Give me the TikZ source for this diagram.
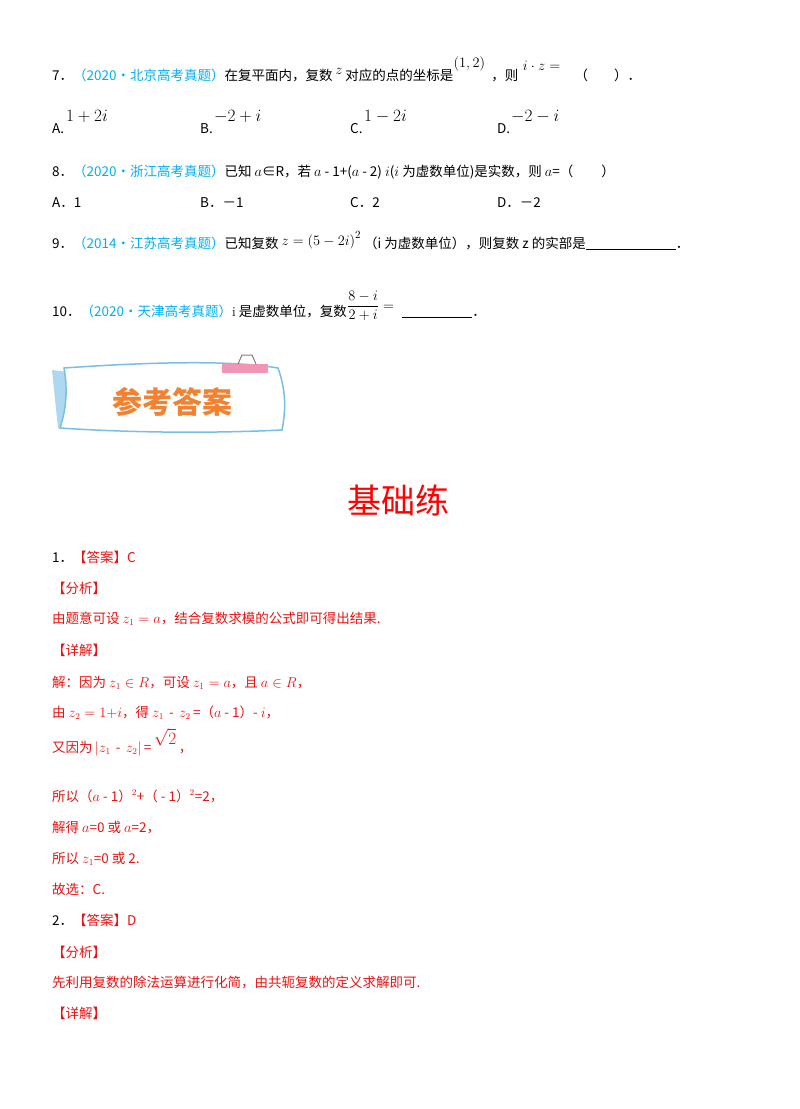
\documentclass[tikz,border=0pt]{standalone}
\usepackage{fontspec}
\newfontfamily\cjk{Noto Sans CJK SC}
\definecolor{qblue}{RGB}{0,176,240}
\definecolor{ans}{RGB}{230,20,20}
\definecolor{bannerorange}{RGB}{240,130,50}
\definecolor{bannerblue}{RGB}{120,190,230}
\definecolor{clippink}{RGB}{240,150,180}
\tikzset{
 t/.style={anchor=base west,inner sep=0pt,font=\cjk\fontsize{13.5}{15}\selectfont},
 r/.style={t,text=ans},
}
\begin{document}
\begin{tikzpicture}[x=1pt,y=-1pt]
\useasboundingbox[fill=white] (0,0) rectangle (800,1109);
% Q7
\node[t] (q7) at (52,80) {7．\textcolor{qblue}{（2020・北京高考真题）}在复平面内，复数};
\node[t] (q7z) at ([yshift=6pt]q7.base east) {\fontsize{15}{16}\selectfont$\,z$};
\node[t] (q7a) at (q7.base east -| q7z.east) {\,对应的点的坐标是};
\node[t] (q7p) at ([yshift=13pt]q7a.base east) {\fontsize{15}{16}\selectfont$(1,2)$};
\node[t] (q7c) at (q7a.base east -| q7p.east) {\hspace{6pt}，则};
\node[t] (q7e) at ([yshift=10pt]q7c.base east) {\fontsize{15}{16}\selectfont$\;i\cdot z=$};
\node[t] (q7b) at (q7a.base east -| q7e.east) {\hspace{14pt}（\hspace{26pt}）．};
% options 7
\foreach \x/\l/\v [count=\k] in {52/A./1+2i,200/B./-2+i,350/C./1-2i,497/D./-2-i}{
 \node[t] (o7\k) at (\x,133) {\l};
 \node[t] (m7\k) at (\x+14,121) {\fontsize{16}{18}\selectfont$\v$};
}
% Q8
\node[t] (q8) at (52,176) {8．\textcolor{qblue}{（2020・浙江高考真题）}已知 $a$∈R，若 $a$ - 1+($a$ - 2) $i$($i$ 为虚数单位)是实数，则 $a$=（\hspace{28pt}）};
\foreach \x/\v [count=\k] in {52/A．1,200/B．－1,350/C．2,497/D．－2}{
 \node[t] (o8\k) at (\x,207) {\v};
}
% Q9
\node[t] (q9) at (52,248) {9．\textcolor{qblue}{（2014・江苏高考真题）}已知复数};
\node[t] (q9m) at ([yshift=3pt]q9.base east) {\fontsize{15}{16}\selectfont\,$z=\bigl(5-2i\bigr)^{2}$\,};
\node[t] (q9r) at (q9.base east -| q9m.east) {（i 为虚数单位），则复数 z 的实部是\rule[-1pt]{90pt}{0.5pt}．};
% Q10
\node[t] (q10) at (52,316) {10．\textcolor{qblue}{（2020・天津高考真题）}$\mathrm{i}$ 是虚数单位，复数};
\node[t] (q10m) at ([yshift=6pt]q10.base east) {\fontsize{15}{17}\selectfont$\displaystyle\frac{8-i}{2+i}=$};
\node[t] (q10r) at (q10.base east -| q10m.east) {\hspace{8pt}\rule[-1pt]{70pt}{0.5pt}．};
% banner
\fill[bannerblue!60] (52,370) -- (68,372) -- (70,425) -- (58,428) -- cycle;
\draw[bannerblue,line width=1.5pt,fill=white] (64,368) .. controls (150,362) and (230,360) .. (278,368) .. controls (286,390) and (286,410) .. (282,430) .. controls (200,434) and (120,432) .. (60,428) .. controls (66,410) and (68,390) .. (64,368) -- cycle;
\fill[clippink] (222,364) rectangle (268,373);
\draw[gray,line width=1pt] (238,364) -- (242,355) -- (252,355) -- (256,364);
\node[anchor=center,text=bannerorange,font=\cjk\bfseries\fontsize{30}{32}\selectfont] (banner) at (172,402) {参考答案};
% section title
\node[anchor=center,text=red,font=\cjk\fontsize{34}{36}\selectfont] (title) at (398,500) {基础练};
% answers
\node[t] (a1) at (52,562) {1．\textcolor{ans}{【答案】C}};
\node[r] (a2) at (52,593) {【分析】};
\node[r] (a3) at (52,623) {由题意可设 $z_1=a$，结合复数求模的公式即可得出结果.};
\node[r] (a4) at (52,655) {【详解】};
\node[r] (a5) at (52,687) {解：因为 $z_1\in R$，可设 $z_1=a$，且 $a\in R$，};
\node[r] (a6) at (52,717) {由 $z_2=1{+}i$，得 $z_1$\, - \,$z_2$\,=（$a$ - 1）- $i$，};
\node[r] (a7) at (52,752) {又因为\,$|z_1$\, - \,$z_2|$\,=};
\node[r] (a7s) at ([yshift=8pt]a7.base east) {\,\fontsize{16}{18}\selectfont$\sqrt{2}$};
\node[r] (a7c) at (a7.base east -| a7s.east) {\,，};
\node[r] (a8) at (52,801) {所以（$a$ - 1）$^{2}$+（ - 1）$^{2}$=2，};
\node[r] (a9) at (52,832) {解得 $a$=0 或 $a$=2，};
\node[r] (a10) at (52,863) {所以 $z_1$=0 或 2.};
\node[r] (a11) at (52,894) {故选：C.};
\node[t] (b1) at (52,925) {2．\textcolor{ans}{【答案】D}};
\node[r] (b2) at (52,957) {【分析】};
\node[r] (b3) at (52,987) {先利用复数的除法运算进行化简，由共轭复数的定义求解即可.};
\node[r] (b4) at (52,1018) {【详解】};
\end{tikzpicture}
\end{document}
